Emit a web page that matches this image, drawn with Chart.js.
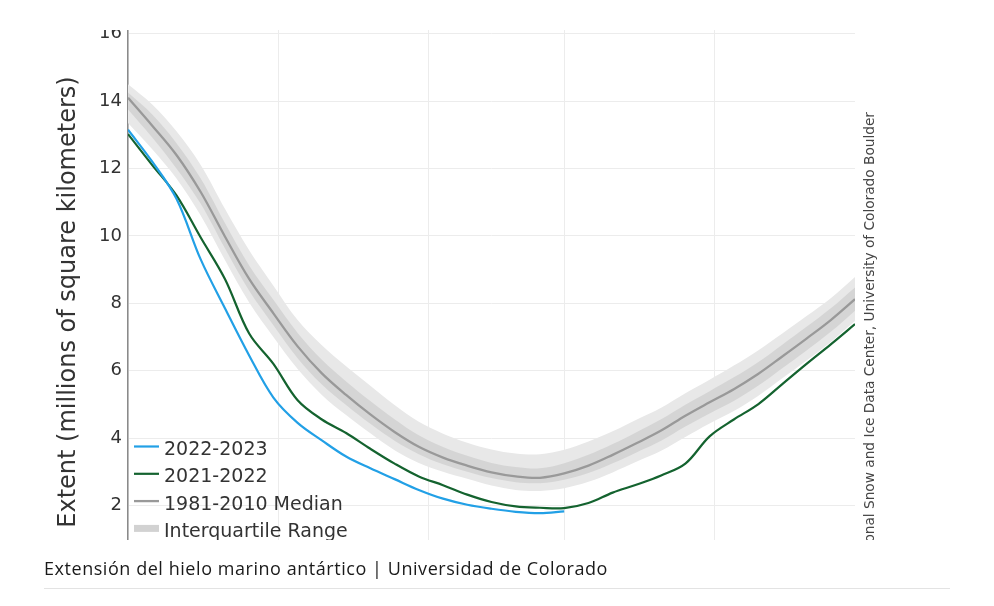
<!DOCTYPE html>
<html>
<head>
<meta charset="utf-8">
<script src="https://cdn.jsdelivr.net/npm/chart.js@4.4.1/dist/chart.umd.min.js"></script>
<style>
  html, body { margin:0; padding:0; background:#fff; }
  body { width:994px; height:606px; position:relative; overflow:hidden; }
  #crop { position:absolute; left:0; top:30px; width:994px; height:510px; overflow:hidden; }
  #chart { position:absolute; left:0; top:-30px; }
  #ytitle { position:absolute; left:52.7px; top:601.5px; width:600px; height:24px; line-height:24px;
            font: 24px "DejaVu Sans"; color:#333; text-align:center; white-space:nowrap;
            transform-origin:0 0; transform:rotate(-90deg); }
  #source { position:absolute; left:861.3px; top:582px; width:500px; height:14px; line-height:14px;
            font: 13.7px "DejaVu Sans"; color:#444; text-align:right; white-space:nowrap;
            transform-origin:0 0; transform:rotate(-90deg); }
  #caption { position:absolute; left:44px; top:556px; line-height:20px; font: 18px "Open Sans"; letter-spacing:0.55px; color:#1a1a1a; white-space:nowrap; }
  #rule { position:absolute; left:44px; top:588px; width:906px; height:1px; background:#e3e3e3; }
</style>
</head>
<body>
<div id="crop">
  <canvas id="chart" width="994" height="600"></canvas>
  <div id="source">National Snow and Ice Data Center, University of Colorado Boulder</div>
</div>
<div id="ytitle">Extent (millions of square kilometers)</div>
<div id="caption">Extensión del hielo marino antártico | Universidad de Colorado</div>
<div id="rule"></div>
<script>
// Day index: 0 = 1 December
const days = [0,5,10,15,20,25,30,35,40,45,50,55,60,65,70,75,80,85,90,95,100,105,110,115,120,125,130,135,140,145,150];
const median1981_2010 = [14.1,13.27,12.4,11.3,9.98,8.72,7.7,6.72,5.92,5.28,4.7,4.18,3.74,3.42,3.18,2.98,2.86,2.82,2.95,3.18,3.5,3.85,4.22,4.66,5.06,5.45,5.9,6.42,6.95,7.5,8.12];
const iqrLow  = [13.75,12.92,12.0,10.95,9.63,8.37,7.35,6.37,5.59,4.98,4.42,3.92,3.52,3.22,3.0,2.81,2.69,2.66,2.76,2.96,3.25,3.58,3.92,4.34,4.73,5.1,5.55,6.07,6.6,7.15,7.78];
const iqrHigh = [14.25,13.6,12.75,11.7,10.38,9.12,8.1,7.12,6.32,5.68,5.1,4.56,4.08,3.73,3.47,3.26,3.14,3.1,3.25,3.5,3.82,4.18,4.56,4.99,5.39,5.8,6.25,6.77,7.3,7.85,8.47];
const idrLow  = [13.35,12.57,11.7,10.6,9.28,8.02,7.0,6.05,5.28,4.68,4.14,3.64,3.26,3.0,2.79,2.59,2.46,2.43,2.51,2.7,2.98,3.3,3.62,4.03,4.43,4.8,5.25,5.77,6.3,6.85,7.47];
const idrHigh = [14.5,13.9,13.1,12.1,10.8,9.57,8.52,7.5,6.75,6.13,5.55,4.98,4.48,4.13,3.86,3.66,3.54,3.52,3.65,3.9,4.2,4.55,4.9,5.33,5.73,6.15,6.6,7.1,7.62,8.15,8.78];
const season2022_2023 = [13.15,12.2,11.1,9.3,7.85,6.45,5.2,4.45,3.93,3.45,3.1,2.78,2.46,2.2,2.02,1.9,1.81,1.77,1.82];
const season2021_2022 = [13.02,12.1,11.2,9.95,8.72,7.1,6.2,5.12,4.55,4.15,3.68,3.24,2.86,2.6,2.32,2.1,1.97,1.93,1.92,2.07,2.38,2.62,2.89,3.24,4.05,4.55,5.0,5.6,6.2,6.78,7.38];
const monthStarts = [0,31,62,90,121];
const yTicks = [2,4,6,8,10,12,14,16];

const pts = arr => arr.map((v,i) => ({x: days[i], y: v}));

const legendPlugin = {
  id: 'insideLegend',
  afterDatasetsDraw(chart) {
    const ctx = chart.ctx;
    const items = chart.data.datasets.filter(d => d.legendText);
    ctx.save();
    ctx.font = '19px "DejaVu Sans"';
    ctx.textBaseline = 'alphabetic';
    items.forEach((d, i) => {
      const base = 455 + i * 27.3;
      const ly = base - 8.5;
      ctx.strokeStyle = d.legendColor || d.borderColor;
      ctx.lineWidth = d.legendWidth || d.borderWidth;
      ctx.lineCap = 'butt';
      ctx.beginPath(); ctx.moveTo(134, ly); ctx.lineTo(159, ly); ctx.stroke();
      ctx.fillStyle = '#333';
      ctx.fillText(d.legendText, 164, base);
    });
    ctx.restore();
  }
};

const lineBase = { pointRadius: 0, tension: 0.35, fill: false };

new Chart(document.getElementById('chart'), {
  type: 'line',
  data: {
    datasets: [
      Object.assign({}, lineBase, { label:'2022-2023', legendText:'2022-2023', data: pts(season2022_2023), borderColor:'#22a0e6', borderWidth:2.2 }),
      Object.assign({}, lineBase, { label:'2021-2022', legendText:'2021-2022', data: pts(season2021_2022), borderColor:'#14632f', borderWidth:2.2 }),
      Object.assign({}, lineBase, { label:'1981-2010 Median', legendText:'1981-2010 Median', data: pts(median1981_2010), borderColor:'#999999', borderWidth:2.3 }),
      Object.assign({}, lineBase, { label:'Interquartile Range', legendText:'Interquartile Range', legendColor:'#d2d2d2', legendWidth:7,
        data: pts(iqrHigh), borderWidth:0, borderColor:'rgba(0,0,0,0)', backgroundColor:'#d5d5d5', fill:'+1' }),
      Object.assign({}, lineBase, { label:'iqrLow', data: pts(iqrLow), borderWidth:0, borderColor:'rgba(0,0,0,0)' }),
      Object.assign({}, lineBase, { label:'idrHigh', data: pts(idrHigh), borderWidth:0, borderColor:'rgba(0,0,0,0)', backgroundColor:'#e8e8e8', fill:'+1' }),
      Object.assign({}, lineBase, { label:'idrLow', data: pts(idrLow), borderWidth:0, borderColor:'rgba(0,0,0,0)' })
    ]
  },
  options: {
    responsive: false,
    animation: false,
    events: [],
    layout: { padding: { left: 0, right: 139, top: 13.2, bottom: 27.2 } },
    plugins: { legend: { display:false }, tooltip: { enabled:false } },
    scales: {
      x: {
        type: 'linear', min: 0, max: 150,
        ticks: { display: false },
        grid: { color:'#ececec', lineWidth:1, drawTicks:false },
        border: { display:false },
        afterBuildTicks: s => { s.ticks = monthStarts.map(v => ({value:v})); },
        afterFit: s => { s.height = 0; }
      },
      y: {
        type: 'linear', min: 0, max: 16.5,
        ticks: { color:'#333', font:{ family:'DejaVu Sans', size:18 }, padding:6 },
        grid: { color:'#ececec', lineWidth:1, drawTicks:false },
        border: { color:'#8a8a8a', width:1.5 },
        afterBuildTicks: s => { s.ticks = yTicks.map(v => ({value:v})); },
        afterFit: s => { s.width = 128; }
      }
    }
  },
  plugins: [legendPlugin]
});
</script>
</body>
</html>
